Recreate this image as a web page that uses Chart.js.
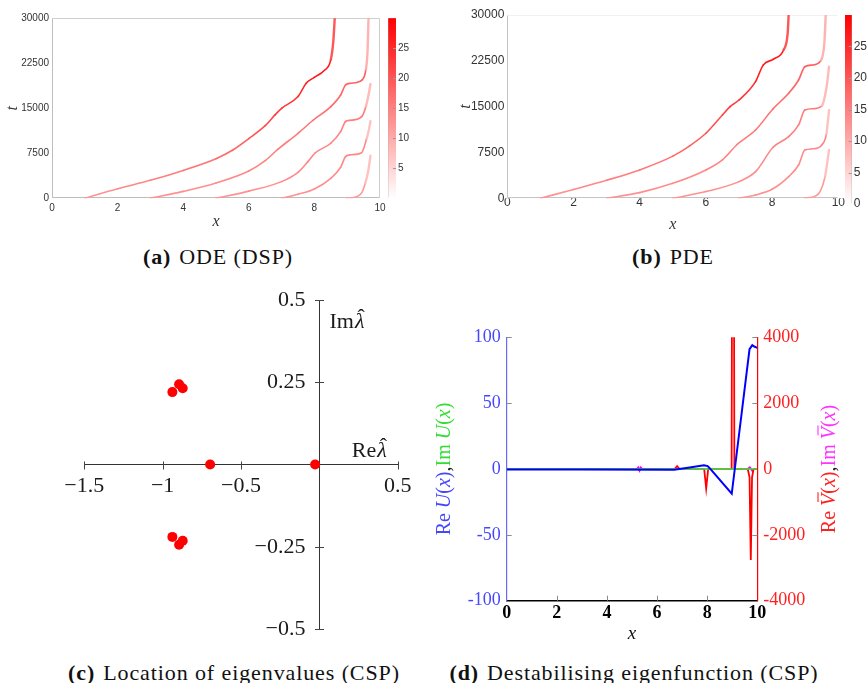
<!DOCTYPE html>
<html>
<head>
<meta charset="utf-8">
<title>Spike dynamics: ODE vs PDE, eigenvalues and eigenfunction</title>
<script src="https://cdn.jsdelivr.net/npm/chart.js@4.4.1/dist/chart.umd.min.js"></script>
<style>
  html, body { margin: 0; padding: 0; background: #ffffff; }
  body { position: relative; width: 868px; height: 683px; overflow: hidden; }
  canvas { position: absolute; display: block; }
  .cap {
    position: absolute; transform: translate(-50%, -50%); white-space: nowrap;
    font-family: "Liberation Serif", "Times New Roman", serif; font-size: 22px;
    letter-spacing: 0.9px; color: #111;
  }
  .cap b { margin-right: 8px; }
</style>
</head>
<body>
<canvas id="odePaths" width="434" height="240" style="left:0px;top:0px"></canvas>
<canvas id="odeBar" width="54" height="240" style="left:380px;top:0px"></canvas>
<canvas id="pdePaths" width="434" height="240" style="left:434px;top:0px"></canvas>
<canvas id="pdeBar" width="30" height="240" style="left:838px;top:0px"></canvas>
<canvas id="eigs" width="434" height="372" style="left:0px;top:280px"></canvas>
<canvas id="efun" width="434" height="345" style="left:434px;top:300px"></canvas>

<div class="cap" style="left:218px;top:257px"><b>(a)</b>ODE (DSP)</div>
<div class="cap" style="left:673px;top:257px"><b>(b)</b>PDE</div>
<div class="cap" style="left:234px;top:673px"><b>(c)</b>Location of eigenvalues (CSP)</div>
<div class="cap" style="left:634px;top:673px"><b>(d)</b>Destabilising eigenfunction (CSP)</div>

<script>
// ---------------- data ----------------
// axis ticks
const xTicks = [0, 2, 4, 6, 8, 10];
const tTicks = [0, 7500, 15000, 22500, 30000];
const odeBarTicks = [5, 10, 15, 20, 25];
const pdeBarTicks = [0, 5, 10, 15, 20, 25];
const reTicks = [-1.5, -1, -0.5, 0.5];
const imTicks = [-0.5, -0.25, 0.25, 0.5];
const uTicks = [-100, -50, 0, 50, 100];
const vTicks = [-4000, -2000, 0, 2000, 4000];

// spike positions [x, t] in the ODE (DSP) reduction
const odeSpike1 = [[1.0,0],[2.0,1600],[3.0,3000],[4.0,4650],[5.0,6600],[5.5,8000],[6.0,9950],[6.5,12100],[6.8,13900],[7.0,15000],[7.5,16950],[7.75,19170],[8.0,20170],[8.3,21300],[8.5,23100],[8.58,26400],[8.62,30000]];
const odeSpike2 = [[3.0,0],[4.0,1150],[5.0,2550],[6.0,4550],[6.5,6280],[6.9,8220],[7.5,10830],[7.97,13050],[8.5,15280],[8.8,17220],[8.95,18890],[9.1,19170],[9.45,19700],[9.57,21500],[9.62,24500],[9.65,30000]];
const odeSpike3 = [[5.0,0],[6.0,1200],[7.0,2780],[7.5,4330],[7.8,6110],[8.02,7550],[8.5,9170],[8.8,11110],[8.95,12800],[9.1,13000],[9.44,13600],[9.57,15300],[9.66,17500],[9.71,19060]];
const odeSpike4 = [[7.0,0],[7.5,670],[8.0,1560],[8.5,3330],[8.8,5170],[8.95,6950],[9.1,7250],[9.44,7600],[9.59,9900],[9.66,11400],[9.71,12850]];
const odeSpike5 = [[8.98,0],[9.3,300],[9.45,1000],[9.55,2500],[9.64,4500],[9.71,7100]];

// spike positions [x, t] in the full PDE simulation
const pdeSpike1 = [[1.0,0],[2.0,1450],[3.0,2950],[4.0,4650],[5.0,6900],[5.5,8550],[6.0,10640],[6.5,13640],[6.73,15000],[7.0,16090],[7.5,19090],[7.73,21800],[8.05,22800],[8.35,24300],[8.47,27000],[8.5,30000]];
const pdeSpike2 = [[3.0,0],[4.0,930],[5.0,2450],[6.0,4640],[6.5,6300],[6.95,8850],[7.5,11180],[8.03,14650],[8.5,17180],[8.8,19360],[8.99,21540],[9.24,21820],[9.48,22600],[9.58,25500],[9.62,30000]];
const pdeSpike3 = [[5.0,0],[6.0,1100],[7.0,2730],[7.5,4360],[8.03,8350],[8.5,10090],[8.8,12000],[8.99,14450],[9.24,14650],[9.5,15100],[9.64,18000],[9.72,21540]];
const pdeSpike4 = [[7.0,0],[7.5,550],[8.0,1470],[8.5,3550],[8.8,5450],[8.99,7900],[9.24,8100],[9.5,8730],[9.64,10500],[9.72,14450]];
const pdeSpike5 = [[8.98,0],[9.3,350],[9.45,1090],[9.6,3540],[9.72,7910]];

// eigenvalues of the linearised CSP problem
const eigRe = [-0.938, -0.895, -0.872, -0.697, -0.027, -0.938, -0.895, -0.872];
const eigIm = [0.22, 0.244, 0.232, 0, 0, -0.22, -0.244, -0.232];

// destabilising eigenfunction components [x, value]
const reU = [[0,-0.4],[3,-0.4],[6.68,-0.6],[7.3,1.2],[7.87,2.9],[8.02,2.2],[8.1,0.6],[8.98,-18.8],[9.69,91],[9.8,94],[9.88,93],[10,92]];
const imU = [[0,0],[5,0],[10,0]];
const reV = [[0,0],[6.7,0],[6.8,90],[6.9,0],[7.88,0],[7.96,-590],[8.04,0],[8.92,0],[8.975,0],[9.03,20000],[9.085,0],[9.15,0],[9.62,0],[9.69,-250],[9.74,-2760],[9.79,-250],[9.85,0],[10,0]];
const imV = [[0,0],[5.2,0],[5.25,45],[5.3,-45],[5.35,45],[5.4,0],[9.62,0],[9.7,50],[9.8,-50],[9.86,0],[10,0]];

// ---------------- drawing ----------------
const sans = '"Liberation Sans", Arial, sans-serif';
const serif = '"Liberation Serif", "Times New Roman", serif';

Chart.defaults.animation = false;
Chart.defaults.responsive = false;
Chart.defaults.events = [];
Chart.defaults.plugins.legend.display = false;
Chart.defaults.plugins.tooltip.enabled = false;

const useTicks = list => scale => { scale.ticks = list.map(v => ({value: v})); };
const plain = v => String(v);
const withMinus = v => String(v).replace('-', '\u2212');
const toXY = pts => pts.map(([x, y]) => ({x, y}));

// white -> red colour map on 0..30
function levelColour(level, alpha = 1) {
  const v = Math.round(255 * (1 - Math.max(0, Math.min(level, 30)) / 30));
  return `rgba(255,${v},${v},${alpha})`;
}

// shading of each spike track (body from lo to hi, steep tails)
const spikeShades = [
  {lo: 13, hi: 27, tail: 22},
  {lo: 13, hi: 19, tail: 10},
  {lo: 13, hi: 17, tail: 9},
  {lo: 13, hi: 16, tail: 8},
  {lo: 12, hi: 13, tail: 8}
];
const isSteep = c => Math.abs(c.p1.x - c.p0.x) < 0.3 * Math.abs(c.p1.y - c.p0.y);

// thin frame around the plotting area
const boxFrame = {
  id: 'boxFrame',
  beforeDatasetsDraw(chart, args, o) {
    const {ctx, chartArea: a} = chart;
    const L = Math.round(a.left) + 0.5, R = Math.round(a.right) - 0.5;
    const T = Math.round(a.top) + 0.5, B = Math.round(a.bottom) - 0.5;
    ctx.save();
    ctx.lineWidth = 1;
    const edge = (c, x1, y1, x2, y2) => {
      if (!c) return;
      ctx.strokeStyle = c; ctx.beginPath(); ctx.moveTo(x1, y1); ctx.lineTo(x2, y2); ctx.stroke();
    };
    edge(o.top, L, T, R, T); edge(o.right, R, T, R, B);
    edge(o.left, L, T, L, B); edge(o.bottom, L, B, R, B);
    ctx.restore();
  }
};

function pathChart(id, spikes, cfg) {
  return new Chart(document.getElementById(id), {
    type: 'line',
    data: {
      datasets: spikes.map((pts, i) => {
        const s = spikeShades[i];
        const body = k => levelColour(s.lo + (s.hi - s.lo) * Math.min(pts[k][1] / 20000, 1));
        return {
          data: toXY(pts),
          borderColor: levelColour(s.lo),
          borderWidth: 1.5,
          pointRadius: 0,
          cubicInterpolationMode: 'monotone',
          borderCapStyle: 'round',
          borderJoinStyle: 'round',
          segment: {
            borderColor: c => isSteep(c) ? levelColour(s.tail, 0.9) : body(c.p0DataIndex),
            borderWidth: c => isSteep(c) ? 2.4 : 1.6
          }
        };
      })
    },
    options: {
      layout: {padding: {top: cfg.top, right: cfg.right, left: 0, bottom: 0}},
      scales: {
        x: {
          type: 'linear', min: 0, max: 10,
          afterBuildTicks: useTicks(xTicks),
          afterFit: s => { s.height = cfg.xHeight; },
          grid: {display: false, drawTicks: false},
          border: {display: false},
          ticks: {padding: cfg.xPad, color: '#333', autoSkip: false, maxRotation: 0,
                  font: {family: sans, size: cfg.fs}, callback: plain},
          title: {display: true, text: 'x', color: '#333',
                  font: {family: serif, size: 16, style: 'italic'},
                  padding: {top: 0, bottom: cfg.xTitlePad}}
        },
        y: {
          type: 'linear', min: 0, max: 30000,
          afterBuildTicks: useTicks(tTicks),
          afterFit: s => { s.width = cfg.yWidth; },
          grid: {display: false, drawTicks: false},
          border: {display: false},
          ticks: {padding: 3, color: '#333', autoSkip: false,
                  font: {family: sans, size: cfg.fs}, callback: plain},
          title: {display: true, text: 't', color: '#333',
                  font: {family: serif, size: 16, style: 'italic'},
                  padding: {top: cfg.yTitlePad, bottom: 0}}
        }
      },
      plugins: {boxFrame: cfg.frame}
    },
    plugins: [boxFrame]
  });
}

// small marks on the inner right edge of a colour bar
const barMarks = {
  id: 'barMarks',
  afterDatasetsDraw(chart, args, o) {
    const {ctx, chartArea: a, scales: {y}} = chart;
    ctx.save();
    ctx.strokeStyle = '#9a9a9a'; ctx.lineWidth = 1;
    o.ticks.forEach(v => {
      if (v <= 0) return;
      const py = Math.round(y.getPixelForValue(v)) + 0.5;
      ctx.beginPath(); ctx.moveTo(a.right - 3, py); ctx.lineTo(a.right, py); ctx.stroke();
    });
    ctx.restore();
  }
};

function colourBar(id, ticks, cfg) {
  return new Chart(document.getElementById(id), {
    type: 'bar',
    data: {
      labels: [''],
      datasets: [{
        data: [[0, 30]],
        backgroundColor: c => {
          const a = c.chart.chartArea;
          if (!a) return '#ff8080';
          const g = c.chart.ctx.createLinearGradient(0, a.bottom, 0, a.top);
          g.addColorStop(0, '#ffffff');
          g.addColorStop(1, '#ff0000');
          return g;
        },
        borderWidth: 0, barPercentage: 1, categoryPercentage: 1
      }]
    },
    options: {
      layout: {padding: {left: cfg.left, top: cfg.top, bottom: cfg.bottom, right: 0}},
      scales: {
        x: {display: false},
        y: {
          position: 'right', min: 0, max: 30,
          afterBuildTicks: useTicks(ticks),
          afterFit: s => { s.width = cfg.axisWidth; },
          grid: {display: false, drawTicks: false},
          border: {display: false},
          ticks: {padding: cfg.pad, color: '#333', autoSkip: false,
                  font: {family: sans, size: cfg.fs}, callback: plain}
        }
      },
      plugins: {
        boxFrame: {top: '#a8a8a8', right: '#a8a8a8', left: '#a8a8a8', bottom: '#a8a8a8'},
        barMarks: {ticks}
      }
    },
    plugins: [boxFrame, barMarks]
  });
}

// (a) ODE spike tracks
pathChart('odePaths', [odeSpike1, odeSpike2, odeSpike3, odeSpike4, odeSpike5], {
  top: 18.3, right: 54, xHeight: 41.7, yWidth: 52, fs: 10, xPad: 4,
  xTitlePad: 9, yTitlePad: 3,
  frame: {top: '#cfcfcf', right: '#cfcfcf', left: '#bdbdbd', bottom: '#bdbdbd'}
});
colourBar('odeBar', odeBarTicks, {left: 8.3, top: 18.3, bottom: 41.7, axisWidth: 38, pad: 2, fs: 10});

// (b) PDE spike tracks
pathChart('pdePaths', [pdeSpike1, pdeSpike2, pdeSpike3, pdeSpike4, pdeSpike5], {
  top: 15, right: 29.7, xHeight: 41.7, yWidth: 73.3, fs: 12, xPad: -3,
  xTitlePad: 6, yTitlePad: 22,
  frame: {top: '#f0f0f0', right: null, left: '#c4c4c4', bottom: '#c4c4c4'}
});
colourBar('pdeBar', pdeBarTicks, {left: 7, top: 15, bottom: 36, axisWidth: 16.3, pad: 2, fs: 12});

// (c) eigenvalues in the complex plane, axes through the origin
function drawHatLambda(ctx, left, cy, size) {
  ctx.font = `italic ${size}px ${serif}`;
  ctx.textAlign = 'left';
  ctx.fillText('\u03bb', left, cy);
  const w = ctx.measureText('\u03bb').width;
  ctx.textAlign = 'center';
  ctx.font = `${size}px ${serif}`;
  ctx.fillText('\u02c6', left + w / 2 + 1.5, cy - 4);
  return w;
}

const crossAxes = {
  id: 'crossAxes',
  beforeDatasetsDraw(chart) {
    const {ctx, scales: {x, y}} = chart;
    const x0 = Math.round(x.getPixelForValue(0)) + 0.5;
    const y0 = Math.round(y.getPixelForValue(0)) + 0.5;
    ctx.save();
    ctx.strokeStyle = '#444'; ctx.lineWidth = 1;
    reTicks.forEach(v => {
      const px = Math.round(x.getPixelForValue(v)) + 0.5;
      ctx.beginPath(); ctx.moveTo(px, y0 - 4); ctx.lineTo(px, y0 + 4); ctx.stroke();
    });
    imTicks.forEach(v => {
      const py = Math.round(y.getPixelForValue(v)) + 0.5;
      ctx.beginPath(); ctx.moveTo(x0 - 4.5, py); ctx.lineTo(x0 + 4.5, py); ctx.stroke();
    });
    ctx.fillStyle = '#1a1a1a';
    ctx.textBaseline = 'middle';
    // labels of the imaginary axis, left of the axis line
    ctx.font = `22px ${serif}`;
    ctx.textAlign = 'right';
    imTicks.forEach(v => ctx.fillText(withMinus(v), x0 - 14, y.getPixelForValue(v)));
    // axis names
    ctx.font = `22px ${serif}`;
    ctx.textAlign = 'left';
    const imTop = y.getPixelForValue(0.5) + 22;
    ctx.fillText('Im', x0 + 10, imTop);
    const wIm = ctx.measureText('Im').width;
    drawHatLambda(ctx, x0 + 10 + wIm + 1, imTop, 22);
    ctx.font = `22px ${serif}`;
    ctx.textAlign = 'left';
    const wRe = ctx.measureText('Re').width;
    ctx.font = `italic 22px ${serif}`;
    const wL = ctx.measureText('\u03bb').width;
    const reLeft = x.getPixelForValue(0.5) - 11 - wRe - wL - 1;
    ctx.font = `22px ${serif}`;
    ctx.fillText('Re', reLeft, y0 - 14);
    drawHatLambda(ctx, reLeft + wRe + 1, y0 - 14, 22);
    ctx.restore();
  }
};

new Chart(document.getElementById('eigs'), {
  type: 'scatter',
  data: {
    datasets: [{
      data: eigRe.map((r, i) => ({x: r, y: eigIm[i]})),
      pointRadius: 5, pointBackgroundColor: '#ff0000', pointBorderColor: '#ff0000', pointBorderWidth: 0
    }]
  },
  options: {
    layout: {padding: {left: 84.3, right: 36.3, top: 20, bottom: 23}},
    scales: {
      x: {
        type: 'linear', position: {y: 0}, min: -1.5, max: 0.5,
        afterBuildTicks: useTicks(reTicks),
        afterFit: s => { s.height = 0; },
        grid: {display: false, drawTicks: false},
        border: {display: true, color: '#333', width: 1},
        ticks: {padding: 8.5, color: '#1a1a1a', autoSkip: false, maxRotation: 0,
                font: {family: serif, size: 22}, callback: withMinus}
      },
      y: {
        type: 'linear', position: {x: 0}, min: -0.5, max: 0.5,
        afterBuildTicks: useTicks(imTicks),
        afterFit: s => { s.width = 0; },
        grid: {display: false, drawTicks: false},
        border: {display: true, color: '#333', width: 1},
        ticks: {display: false}
      }
    }
  },
  plugins: [crossAxes]
});

// (d) destabilising eigenfunction, U on the left axis and V on the right axis
const blue = '#4646ff', green = '#33dd33', red = '#ff2020', magenta = '#ff33ff';

function drawRotatedParts(ctx, cx, cy, parts) {
  const size = 20;
  ctx.save();
  ctx.translate(cx, cy);
  ctx.rotate(-Math.PI / 2);
  ctx.textBaseline = 'middle';
  ctx.textAlign = 'left';
  const fontOf = p => `${p.italic ? 'italic ' : ''}${size}px ${serif}`;
  let total = 0;
  parts.forEach(p => { ctx.font = fontOf(p); total += ctx.measureText(p.text).width; });
  let pos = -total / 2;
  parts.forEach(p => {
    ctx.font = fontOf(p);
    ctx.fillStyle = p.colour;
    ctx.fillText(p.text, pos, 0);
    const w = ctx.measureText(p.text).width;
    if (p.bar) {
      ctx.strokeStyle = p.colour;
      ctx.lineWidth = 1.1;
      ctx.beginPath();
      ctx.moveTo(pos + 4, -12);
      ctx.lineTo(pos + w + 1.5, -12);
      ctx.stroke();
    }
    pos += w;
  });
  ctx.restore();
}

const fnParts = (name, c1, c2) => [
  {text: 'Re ', colour: c1}, {text: name, colour: c1, italic: true, bar: true}, {text: '(', colour: c1},
  {text: 'x', colour: c1, italic: true}, {text: ')', colour: c1}, {text: ',', colour: '#222'},
  {text: 'Im ', colour: c2}, {text: name, colour: c2, italic: true, bar: true}, {text: '(', colour: c2},
  {text: 'x', colour: c2, italic: true}, {text: ')', colour: c2}
];

const efunDecor = {
  id: 'efunDecor',
  beforeDatasetsDraw(chart) {
    const {ctx, chartArea: a, scales} = chart;
    ctx.save();
    ctx.strokeStyle = '#8c8c8c'; ctx.lineWidth = 1;
    const seg = (x1, y1, x2, y2) => { ctx.beginPath(); ctx.moveTo(x1, y1); ctx.lineTo(x2, y2); ctx.stroke(); };
    uTicks.forEach(v => {
      if (v === 0 || v === -100) return;
      const py = Math.round(scales.y.getPixelForValue(v)) + 0.5;
      seg(a.left, py, a.left + 5, py);
    });
    vTicks.forEach(v => {
      if (v === 0 || v === -4000) return;
      const py = Math.round(scales.y1.getPixelForValue(v)) + 0.5;
      seg(a.right - 5, py, a.right, py);
    });
    xTicks.forEach(v => {
      if (v === 0 || v === 10) return;
      const px = Math.round(scales.x.getPixelForValue(v)) + 0.5;
      seg(px, a.bottom, px, a.bottom - 5);
    });
    ctx.restore();
  },
  afterDraw(chart) {
    const {ctx, chartArea: a} = chart;
    const cy = (a.top + a.bottom) / 2;
    drawRotatedParts(ctx, a.left - 61.7, cy, fnParts('U', blue, green));
    drawRotatedParts(ctx, a.right + 72.7, cy, fnParts('V', red, magenta));
  }
};

// V components lying on the zero line stay thin so the Im U line covers them
const flatOnZero = series => c =>
  (series[c.p0DataIndex][1] === 0 && series[c.p1DataIndex][1] === 0) ? 1 : undefined;

new Chart(document.getElementById('efun'), {
  type: 'line',
  data: {
    datasets: [
      {data: toXY(reU), yAxisID: 'y', borderColor: '#0000ff', borderWidth: 2, order: 1},
      {data: toXY(imU), yAxisID: 'y', borderColor: '#2ee82e', borderWidth: 1.5, order: 2},
      {data: toXY(reV), yAxisID: 'y1', borderColor: '#ff0000', borderWidth: 1.8, order: 3, clip: 0,
       segment: {borderWidth: flatOnZero(reV)}},
      {data: toXY(imV), yAxisID: 'y1', borderColor: '#ff00ff', borderWidth: 2, order: 4,
       segment: {borderWidth: flatOnZero(imV)}}
    ]
  },
  options: {
    elements: {point: {radius: 0}, line: {tension: 0}},
    layout: {padding: {top: 37.3, left: 0, right: 0, bottom: 0}},
    scales: {
      x: {
        type: 'linear', min: 0, max: 10,
        afterBuildTicks: useTicks(xTicks),
        afterFit: s => { s.height = 44.3; },
        grid: {display: false, drawTicks: false},
        border: {display: true, color: '#000', width: 1.6},
        ticks: {padding: 2, color: '#000', autoSkip: false, maxRotation: 0,
                font: {family: serif, size: 18, weight: 'bold'}, callback: plain},
        title: {display: true, text: 'x', color: '#111',
                font: {family: serif, size: 19, style: 'italic'}, padding: {top: 0, bottom: 0}}
      },
      y: {
        type: 'linear', position: 'left', min: -100, max: 100,
        afterBuildTicks: useTicks(uTicks),
        afterFit: s => { s.width = 72.7; },
        grid: {display: false, drawTicks: false},
        border: {display: true, color: '#6a6aff', width: 1.2},
        ticks: {padding: 6, color: blue, autoSkip: false,
                font: {family: serif, size: 18}, callback: plain}
      },
      y1: {
        type: 'linear', position: 'right', min: -4000, max: 4000,
        afterBuildTicks: useTicks(vTicks),
        afterFit: s => { s.width = 110.7; },
        grid: {display: false, drawTicks: false},
        border: {display: true, color: '#ff0000', width: 1.2},
        ticks: {padding: 6, color: red, autoSkip: false,
                font: {family: serif, size: 18}, callback: plain}
      }
    }
  },
  plugins: [efunDecor]
});
</script>
</body>
</html>
